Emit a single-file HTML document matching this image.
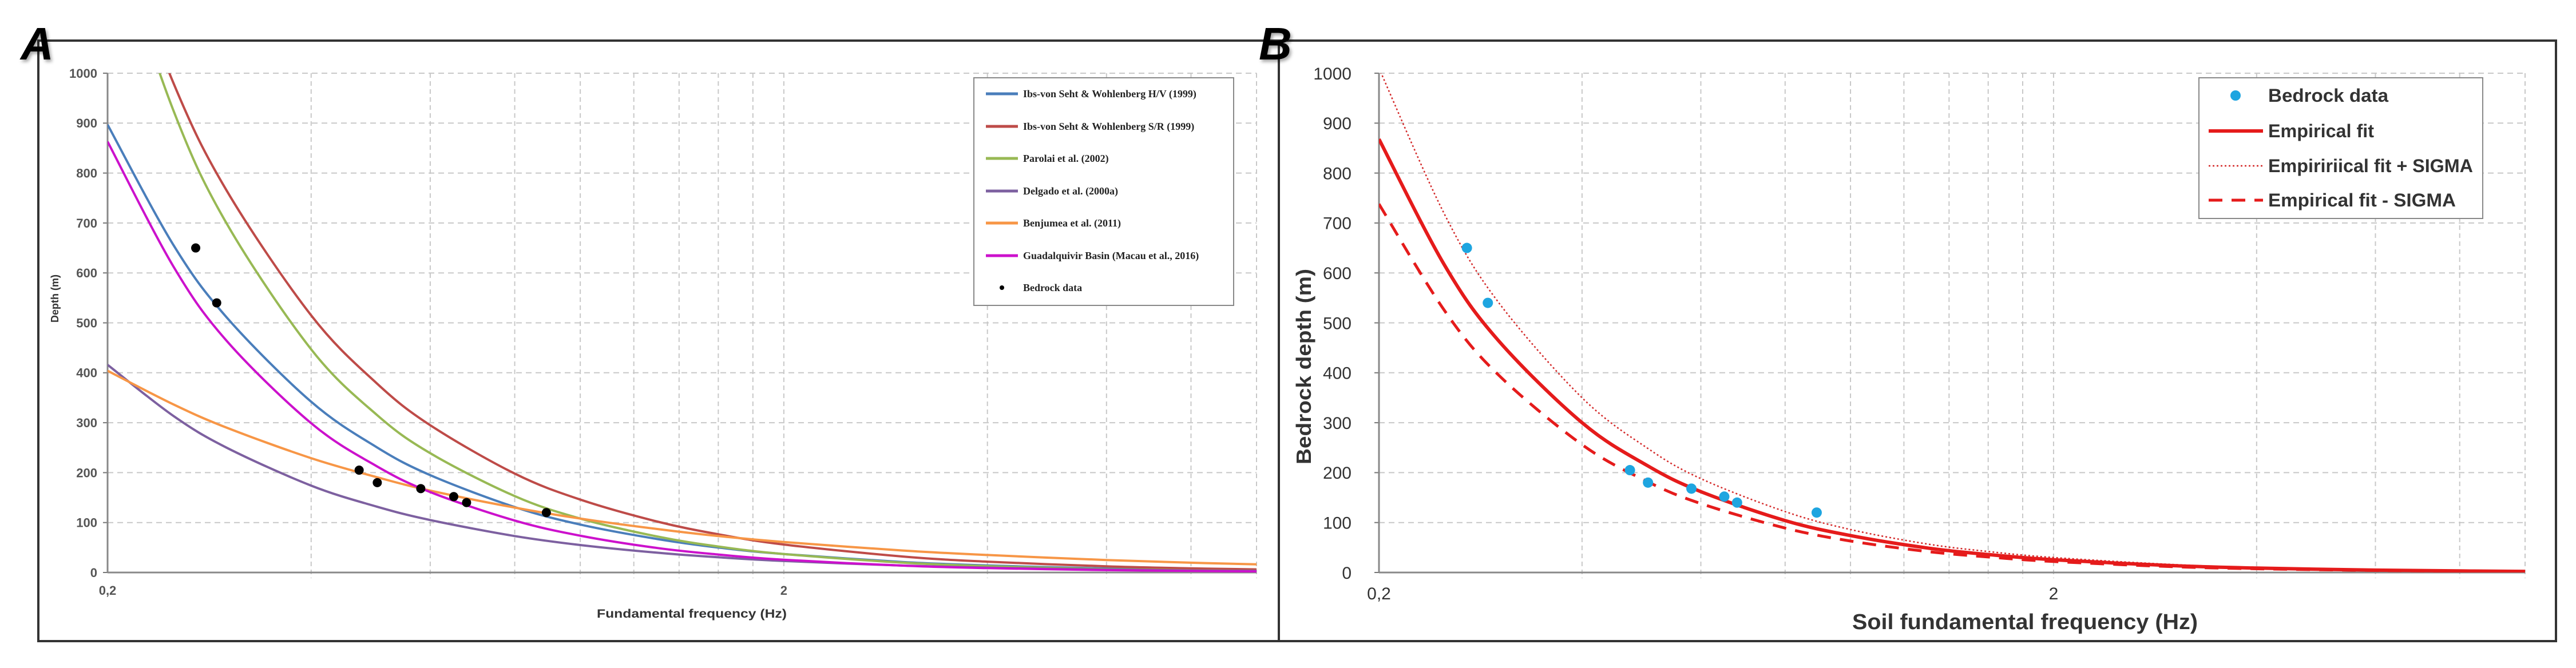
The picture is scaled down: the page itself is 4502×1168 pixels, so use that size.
<!DOCTYPE html>
<html><head><meta charset="utf-8">
<style>
html,body{margin:0;padding:0;background:#fff;}
svg{display:block;}
</style></head>
<body>
<svg id="fig" width="4502" height="1168" viewBox="0 0 4502 1168" xmlns="http://www.w3.org/2000/svg">
  <defs>
    <clipPath id="clipA"><rect x="188" y="128" width="2008" height="873"/></clipPath>
    <clipPath id="clipB"><rect x="2410" y="128" width="2003" height="873"/></clipPath>
    <filter id="shadow" x="-20%" y="-20%" width="160%" height="160%">
      <feDropShadow dx="3" dy="4" stdDeviation="3" flood-color="#000" flood-opacity="0.35"/>
    </filter>
  </defs>
  <rect x="67" y="71" width="4400" height="1050" fill="none" stroke="#333" stroke-width="4"/>
  <line x1="2235" y1="71" x2="2235" y2="1121" stroke="#333" stroke-width="4"/>
  <text x="36" y="104" font-family="Liberation Sans, sans-serif" font-weight="bold" font-style="italic" font-size="80" fill="#000" filter="url(#shadow)">A</text>
  <text x="2200" y="104" font-family="Liberation Sans, sans-serif" font-weight="bold" font-style="italic" font-size="80" fill="#000" filter="url(#shadow)">B</text>

  <g id="panelA"></g>
  <g id="panelB"></g>
</svg>
<script>
// ---------- data ----------
const freqs = [0.2,0.25,0.3,0.4,0.5,0.6,0.8,1,1.3,1.6,2,3,4,6,8,10];
const ibsHV   = [897,657,511,342,251,195,131,96,67,50,37,21,14,8,5.4,3.9];
const ibsSR   = [1335,982,765,515,379,295,198,146,102,76.5,56,32,21.7,12.4,8.4,6.2];
const parolai = [1311,927,699,447,316,239,153,108,72,52,37,19.7,12.6,6.7,4.3,3.0];
const delgado = [416,314,250,174,132,105,73,55,39.6,30.5,23,13.9,9.7,5.8,4.0,3.1];
const benjumea= [404,337,290,229,191,164,130,108,87,73,61,44,35,25,19.6,16.3];
const guadalq = [863,614,464,299,213,161,104,73.6,49,36,25.5,13.7,8.8,4.7,3.1,2.2];
const empFit      = [868,616,466,300,214,162,104,74,49,36,25.5,13.7,8.8,4.7,3.1,2.2];
const empFitPlus  = [1010,718,543,350,249,188,122,86,57,42,30,16,10.3,5.5,3.6,2.6];
const empFitMinus = [738,525,397,256,182,138,89,63,42,31,22,11.7,7.5,4.0,2.7,1.9];
const bedrockFreq  = [0.270,0.290,0.471,0.501,0.581,0.650,0.679,0.891];
const bedrockDepth = [650,540,205,180,168,152,140,120];
const yTicks = [0,100,200,300,400,500,600,700,800,900,1000];
const xGrid = [0.4,0.6,0.8,1,1.2,1.4,1.6,1.8,2,4,6,8,10];
const xTickLabels = ["0,2","2"];
const xTickValues = [0.2,2];
const legendA = ["Ibs-von Seht & Wohlenberg H/V (1999)","Ibs-von Seht & Wohlenberg S/R (1999)","Parolai et al. (2002)","Delgado et al. (2000a)","Benjumea et al. (2011)","Guadalquivir Basin (Macau et al., 2016)","Bedrock data"];
const legendB = ["Bedrock data","Empirical fit","Empiririical fit + SIGMA","Empirical fit - SIGMA"];

const NS = "http://www.w3.org/2000/svg";
function mk(tag, attrs, parent){
  const e = document.createElementNS(NS, tag);
  for (const k in attrs) e.setAttribute(k, attrs[k]);
  parent.appendChild(e);
  return e;
}
function makeAxes(left, right, top, bottom){
  const fmin = 0.2, decade = (right-left)/Math.log10(10/0.2);
  return {
    x: f => left + Math.log10(f/fmin)*decade,
    y: v => bottom - v/1000*(bottom-top),
    left, right, top, bottom
  };
}
function pathThrough(ax, xs, ys){
  const p = xs.map((f,i)=>[ax.x(f), ax.y(ys[i])]);
  let d = "M"+p[0][0].toFixed(1)+","+p[0][1].toFixed(1);
  for (let i=0;i<p.length-1;i++){
    const p0=p[Math.max(0,i-1)], p1=p[i], p2=p[i+1], p3=p[Math.min(p.length-1,i+2)];
    const c1=[p1[0]+(p2[0]-p0[0])/6, p1[1]+(p2[1]-p0[1])/6];
    const c2=[p2[0]-(p3[0]-p1[0])/6, p2[1]-(p3[1]-p1[1])/6];
    d += " C"+c1[0].toFixed(1)+","+c1[1].toFixed(1)+" "+c2[0].toFixed(1)+","+c2[1].toFixed(1)+" "+p2[0].toFixed(1)+","+p2[1].toFixed(1);
  }
  return d;
}
function drawGrid(g, ax, opts){
  yTicks.forEach(v=>{
    if (v>0){
      const l = mk("line",{x1:ax.left,x2:ax.right,y1:ax.y(v),y2:ax.y(v),stroke:"#c8c8c8","stroke-width":2,"stroke-dasharray":"10,7"},g);
      
      
    }
    const tk = mk("line",{x1:ax.left-8,x2:ax.left,y1:ax.y(v),y2:ax.y(v),stroke:"#777","stroke-width":2},g);
    
    
    const t = mk("text",{x:ax.left-opts.yLabelGap,y:ax.y(v)+opts.yFont*0.36,"text-anchor":"end","font-family":"Liberation Sans, sans-serif","font-weight":opts.yWeight,"font-size":opts.yFont,fill:opts.yColor},g);
    t.textContent = v;
    
    
  });
  xGrid.forEach(f=>{
    const l = mk("line",{x1:ax.x(f),x2:ax.x(f),y1:ax.top,y2:ax.bottom+10,stroke:"#c8c8c8","stroke-width":2,"stroke-dasharray":"8,6"},g);
    
    
  });
  const ya = mk("line",{x1:ax.left,x2:ax.left,y1:ax.top,y2:ax.bottom,stroke:"#888","stroke-width":3},g);
  
  
  const xa = mk("line",{x1:ax.left,x2:ax.right,y1:ax.bottom,y2:ax.bottom,stroke:"#888","stroke-width":3},g);
  
  
  xTickValues.forEach((f,i)=>{
    const t = mk("text",{x:ax.x(f),y:opts.xLabelY,"text-anchor":"middle","font-family":"Liberation Sans, sans-serif","font-weight":opts.yWeight,"font-size":opts.yFont,fill:opts.yColor},g);
    t.textContent = xTickLabels[i];
    
    
  });
}
function drawCurve(g, ax, ys, color, width, dash, clip, name){
  const p = mk("path",{d:pathThrough(ax,freqs,ys),fill:"none",stroke:color,"stroke-width":width,"clip-path":clip,"stroke-linejoin":"round"},g);
  if (dash) p.setAttribute("stroke-dasharray",dash);
  
  
}
function drawPoints(g, ax, color, r){
  bedrockFreq.forEach((f,i)=>{
    const c = mk("circle",{cx:ax.x(f),cy:ax.y(bedrockDepth[i]),r:r,fill:color},g);
    
    
  });
}

// ---------- Panel A ----------
const gA = document.getElementById("panelA");
const axA = makeAxes(188, 2196, 128, 1001);
drawGrid(gA, axA, {yLabelGap:18, yFont:22, yWeight:"bold", yColor:"#555", xLabelY:1040});
const colorsA = ["#4a7ebb","#be4b48","#98b954","#7d60a0","#f79646","#cc11cc"];
const seriesA = [ibsHV, ibsSR, parolai, delgado, benjumea, guadalq];
const namesA = ["curve-ibs-hv","curve-ibs-sr","curve-parolai","curve-delgado","curve-benjumea","curve-guadalquivir"];
seriesA.forEach((s,i)=>drawCurve(gA, axA, s, colorsA[i], 4, null, "url(#clipA)", namesA[i]));
drawPoints(gA, axA, "#000", 8);
let t;
t = mk("text",{x:0,y:0,transform:"translate(102,522) rotate(-90)","text-anchor":"middle","font-family":"Liberation Sans, sans-serif","font-weight":"bold","font-size":18,fill:"#333"},gA);
t.textContent="Depth (m)";


t = mk("text",{x:1209,y:1080,"text-anchor":"middle","font-family":"Liberation Sans, sans-serif","font-weight":"bold","font-size":21,fill:"#333",textLength:332,lengthAdjust:"spacingAndGlyphs"},gA);
t.textContent="Fundamental frequency (Hz)";


const lgA = mk("g",{},gA);


mk("rect",{x:1702,y:136,width:454,height:398,fill:"#fff",stroke:"#888","stroke-width":2},lgA);
const legYA = [164,221,277,334,390,447,503];
legendA.forEach((lab,i)=>{
  if (i<6){
    const l = mk("line",{x1:1723,x2:1779,y1:legYA[i],y2:legYA[i],stroke:colorsA[i],"stroke-width":5},lgA);
    
    
  } else {
    const c = mk("circle",{cx:1751,cy:legYA[i],r:4,fill:"#000"},lgA);
    
    
  }
  const tx = mk("text",{x:1788,y:legYA[i]+6,"font-family":"Liberation Serif, serif","font-weight":"bold","font-size":18,fill:"#222"},lgA);
  tx.textContent = lab;
  
  
});

// ---------- Panel B ----------
const gB = document.getElementById("panelB");
const axB = makeAxes(2410, 4413, 128, 1001);
drawGrid(gB, axB, {yLabelGap:48, yFont:30, yWeight:"normal", yColor:"#333", xLabelY:1048});
drawCurve(gB, axB, empFitPlus, "#d42a2a", 2.5, "3,4", "url(#clipB)", "curve-fit-plus-sigma");
drawCurve(gB, axB, empFitMinus, "#e51b1b", 5, "24,16", "url(#clipB)", "curve-fit-minus-sigma");
drawCurve(gB, axB, empFit, "#e51b1b", 6, null, "url(#clipB)", "curve-empirical-fit");
drawPoints(gB, axB, "#1ea5e0", 9);
t = mk("text",{x:0,y:0,transform:"translate(2291,641) rotate(-90)","text-anchor":"middle","font-family":"Liberation Sans, sans-serif","font-weight":"bold","font-size":36,fill:"#333",textLength:342,lengthAdjust:"spacingAndGlyphs"},gB);
t.textContent="Bedrock depth (m)";


t = mk("text",{x:3539,y:1100,"text-anchor":"middle","font-family":"Liberation Sans, sans-serif","font-weight":"bold","font-size":38,fill:"#333",textLength:604,lengthAdjust:"spacingAndGlyphs"},gB);
t.textContent="Soil fundamental frequency (Hz)";


const lgB = mk("g",{},gB);


mk("rect",{x:3843,y:136,width:496,height:246,fill:"#fff",stroke:"#888","stroke-width":2},lgB);
const legYB = [167,229,290,350];
const c0 = mk("circle",{cx:3907,cy:legYB[0],r:9,fill:"#1ea5e0"},lgB);


const sw = [[null,"#e51b1b",6],["3,4","#d42a2a",2.5],["24,16","#e51b1b",5]];
sw.forEach((s,i)=>{
  const l = mk("line",{x1:3860,x2:3955,y1:legYB[i+1],y2:legYB[i+1],stroke:s[1],"stroke-width":s[2]},lgB);
  if (s[0]) l.setAttribute("stroke-dasharray",s[0]);
  
  
});
const lwB = [210,185,358,328];
legendB.forEach((lab,i)=>{
  const tx = mk("text",{x:3964,y:legYB[i]+11,"font-family":"Liberation Sans, sans-serif","font-weight":"bold","font-size":32,fill:"#333",textLength:lwB[i],lengthAdjust:"spacingAndGlyphs"},lgB);
  tx.textContent = lab;
  
  
});
</script>
</body></html>
